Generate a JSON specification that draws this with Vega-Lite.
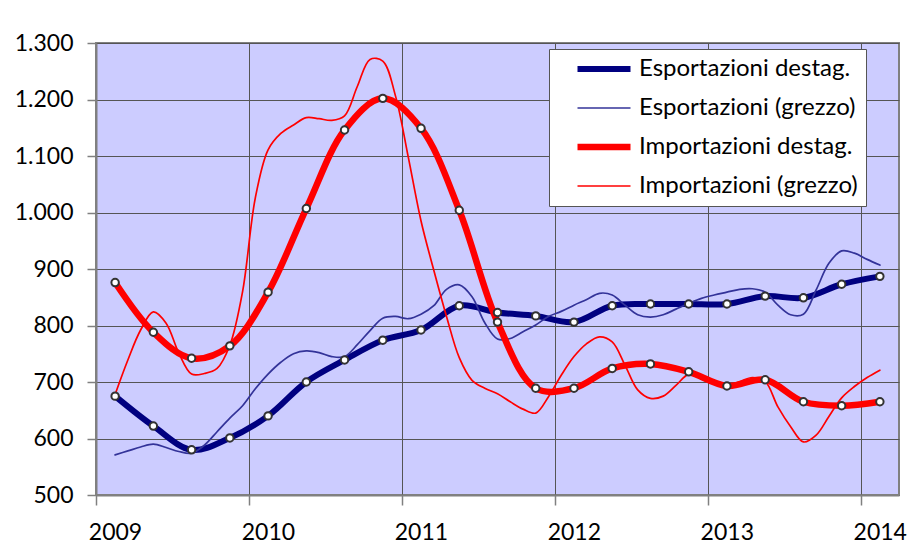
{
  "$schema": "https://vega.github.io/schema/vega-lite/v6.json",
  "width": 803,
  "height": 452,
  "autosize": "none",
  "padding": {"left": 96, "top": 43, "right": 10, "bottom": 60},
  "background": "white",
  "config": {
    "font": "Lato",
    "view": {"fill": "#CCCCFF", "stroke": "#808080", "strokeWidth": 2},
    "legend": {
      "orient": "none",
      "legendX": 453,
      "legendY": 6,
      "direction": "vertical",
      "fillColor": "white",
      "strokeColor": "#555555",
      "padding": 8,
      "symbolType": "stroke",
      "symbolSize": 2809,
      "symbolOffset": 17,
      "clipHeight": 24,
      "rowPadding": 15,
      "labelFont": "Lato",
      "labelFontSize": 24,
      "labelColor": "black",
      "labelOffset": 5,
      "labelLimit": 400
    }
  },
  "datasets": {
    "serie": [
      {"s": "Esportazioni destag.", "m": 0, "v": 675},
      {"s": "Esportazioni destag.", "m": 3, "v": 622},
      {"s": "Esportazioni destag.", "m": 6, "v": 580},
      {"s": "Esportazioni destag.", "m": 9, "v": 601},
      {"s": "Esportazioni destag.", "m": 12, "v": 640},
      {"s": "Esportazioni destag.", "m": 15, "v": 700},
      {"s": "Esportazioni destag.", "m": 18, "v": 739},
      {"s": "Esportazioni destag.", "m": 21, "v": 774},
      {"s": "Esportazioni destag.", "m": 24, "v": 792},
      {"s": "Esportazioni destag.", "m": 27, "v": 835},
      {"s": "Esportazioni destag.", "m": 30, "v": 823},
      {"s": "Esportazioni destag.", "m": 33, "v": 817},
      {"s": "Esportazioni destag.", "m": 36, "v": 806},
      {"s": "Esportazioni destag.", "m": 39, "v": 835},
      {"s": "Esportazioni destag.", "m": 42, "v": 838},
      {"s": "Esportazioni destag.", "m": 45, "v": 838},
      {"s": "Esportazioni destag.", "m": 48, "v": 838},
      {"s": "Esportazioni destag.", "m": 51, "v": 852},
      {"s": "Esportazioni destag.", "m": 54, "v": 849},
      {"s": "Esportazioni destag.", "m": 57, "v": 873},
      {"s": "Esportazioni destag.", "m": 60, "v": 887},

      {"s": "Esportazioni (grezzo)", "m": 0, "v": 571},
      {"s": "Esportazioni (grezzo)", "m": 1, "v": 578},
      {"s": "Esportazioni (grezzo)", "m": 2, "v": 585},
      {"s": "Esportazioni (grezzo)", "m": 3, "v": 590},
      {"s": "Esportazioni (grezzo)", "m": 4, "v": 584},
      {"s": "Esportazioni (grezzo)", "m": 5, "v": 577},
      {"s": "Esportazioni (grezzo)", "m": 6, "v": 574},
      {"s": "Esportazioni (grezzo)", "m": 7, "v": 588},
      {"s": "Esportazioni (grezzo)", "m": 8, "v": 612},
      {"s": "Esportazioni (grezzo)", "m": 9, "v": 636},
      {"s": "Esportazioni (grezzo)", "m": 10, "v": 658},
      {"s": "Esportazioni (grezzo)", "m": 11, "v": 688},
      {"s": "Esportazioni (grezzo)", "m": 12, "v": 714},
      {"s": "Esportazioni (grezzo)", "m": 13, "v": 735},
      {"s": "Esportazioni (grezzo)", "m": 14, "v": 750},
      {"s": "Esportazioni (grezzo)", "m": 15, "v": 755},
      {"s": "Esportazioni (grezzo)", "m": 16, "v": 752},
      {"s": "Esportazioni (grezzo)", "m": 17, "v": 745},
      {"s": "Esportazioni (grezzo)", "m": 18, "v": 745},
      {"s": "Esportazioni (grezzo)", "m": 19, "v": 766},
      {"s": "Esportazioni (grezzo)", "m": 20, "v": 791},
      {"s": "Esportazioni (grezzo)", "m": 21, "v": 813},
      {"s": "Esportazioni (grezzo)", "m": 22, "v": 816},
      {"s": "Esportazioni (grezzo)", "m": 23, "v": 812},
      {"s": "Esportazioni (grezzo)", "m": 24, "v": 820},
      {"s": "Esportazioni (grezzo)", "m": 25, "v": 835},
      {"s": "Esportazioni (grezzo)", "m": 26, "v": 864},
      {"s": "Esportazioni (grezzo)", "m": 27, "v": 872},
      {"s": "Esportazioni (grezzo)", "m": 28, "v": 851},
      {"s": "Esportazioni (grezzo)", "m": 29, "v": 805},
      {"s": "Esportazioni (grezzo)", "m": 30, "v": 776},
      {"s": "Esportazioni (grezzo)", "m": 31, "v": 777},
      {"s": "Esportazioni (grezzo)", "m": 32, "v": 789},
      {"s": "Esportazioni (grezzo)", "m": 33, "v": 801},
      {"s": "Esportazioni (grezzo)", "m": 34, "v": 816},
      {"s": "Esportazioni (grezzo)", "m": 35, "v": 825},
      {"s": "Esportazioni (grezzo)", "m": 36, "v": 836},
      {"s": "Esportazioni (grezzo)", "m": 37, "v": 846},
      {"s": "Esportazioni (grezzo)", "m": 38, "v": 857},
      {"s": "Esportazioni (grezzo)", "m": 39, "v": 854},
      {"s": "Esportazioni (grezzo)", "m": 40, "v": 836},
      {"s": "Esportazioni (grezzo)", "m": 41, "v": 819},
      {"s": "Esportazioni (grezzo)", "m": 42, "v": 815},
      {"s": "Esportazioni (grezzo)", "m": 43, "v": 819},
      {"s": "Esportazioni (grezzo)", "m": 44, "v": 829},
      {"s": "Esportazioni (grezzo)", "m": 45, "v": 839},
      {"s": "Esportazioni (grezzo)", "m": 46, "v": 848},
      {"s": "Esportazioni (grezzo)", "m": 47, "v": 854},
      {"s": "Esportazioni (grezzo)", "m": 48, "v": 859},
      {"s": "Esportazioni (grezzo)", "m": 49, "v": 864},
      {"s": "Esportazioni (grezzo)", "m": 50, "v": 865},
      {"s": "Esportazioni (grezzo)", "m": 51, "v": 859},
      {"s": "Esportazioni (grezzo)", "m": 52, "v": 836},
      {"s": "Esportazioni (grezzo)", "m": 53, "v": 819},
      {"s": "Esportazioni (grezzo)", "m": 54, "v": 820},
      {"s": "Esportazioni (grezzo)", "m": 55, "v": 863},
      {"s": "Esportazioni (grezzo)", "m": 56, "v": 910},
      {"s": "Esportazioni (grezzo)", "m": 57, "v": 932},
      {"s": "Esportazioni (grezzo)", "m": 58, "v": 928},
      {"s": "Esportazioni (grezzo)", "m": 59, "v": 917},
      {"s": "Esportazioni (grezzo)", "m": 60, "v": 907},

      {"s": "Importazioni destag.", "m": 0, "v": 876},
      {"s": "Importazioni destag.", "m": 3, "v": 788},
      {"s": "Importazioni destag.", "m": 6, "v": 742},
      {"s": "Importazioni destag.", "m": 9, "v": 764},
      {"s": "Importazioni destag.", "m": 12, "v": 859},
      {"s": "Importazioni destag.", "m": 15, "v": 1007},
      {"s": "Importazioni destag.", "m": 18, "v": 1146},
      {"s": "Importazioni destag.", "m": 21, "v": 1202},
      {"s": "Importazioni destag.", "m": 24, "v": 1149},
      {"s": "Importazioni destag.", "m": 27, "v": 1004},
      {"s": "Importazioni destag.", "m": 30, "v": 806},
      {"s": "Importazioni destag.", "m": 33, "v": 689},
      {"s": "Importazioni destag.", "m": 36, "v": 689},
      {"s": "Importazioni destag.", "m": 39, "v": 724},
      {"s": "Importazioni destag.", "m": 42, "v": 732},
      {"s": "Importazioni destag.", "m": 45, "v": 718},
      {"s": "Importazioni destag.", "m": 48, "v": 693},
      {"s": "Importazioni destag.", "m": 51, "v": 704},
      {"s": "Importazioni destag.", "m": 54, "v": 665},
      {"s": "Importazioni destag.", "m": 57, "v": 658},
      {"s": "Importazioni destag.", "m": 60, "v": 665},

      {"s": "Importazioni (grezzo)", "m": 0, "v": 678},
      {"s": "Importazioni (grezzo)", "m": 1, "v": 739},
      {"s": "Importazioni (grezzo)", "m": 2, "v": 792},
      {"s": "Importazioni (grezzo)", "m": 3, "v": 824},
      {"s": "Importazioni (grezzo)", "m": 4, "v": 804},
      {"s": "Importazioni (grezzo)", "m": 5, "v": 751},
      {"s": "Importazioni (grezzo)", "m": 6, "v": 714},
      {"s": "Importazioni (grezzo)", "m": 7, "v": 715},
      {"s": "Importazioni (grezzo)", "m": 8, "v": 724},
      {"s": "Importazioni (grezzo)", "m": 9, "v": 765},
      {"s": "Importazioni (grezzo)", "m": 10, "v": 860},
      {"s": "Importazioni (grezzo)", "m": 11, "v": 1026},
      {"s": "Importazioni (grezzo)", "m": 12, "v": 1111},
      {"s": "Importazioni (grezzo)", "m": 13, "v": 1140},
      {"s": "Importazioni (grezzo)", "m": 14, "v": 1155},
      {"s": "Importazioni (grezzo)", "m": 15, "v": 1168},
      {"s": "Importazioni (grezzo)", "m": 16, "v": 1166},
      {"s": "Importazioni (grezzo)", "m": 17, "v": 1163},
      {"s": "Importazioni (grezzo)", "m": 18, "v": 1171},
      {"s": "Importazioni (grezzo)", "m": 19, "v": 1223},
      {"s": "Importazioni (grezzo)", "m": 20, "v": 1271},
      {"s": "Importazioni (grezzo)", "m": 21, "v": 1268},
      {"s": "Importazioni (grezzo)", "m": 22, "v": 1206},
      {"s": "Importazioni (grezzo)", "m": 23, "v": 1098},
      {"s": "Importazioni (grezzo)", "m": 24, "v": 985},
      {"s": "Importazioni (grezzo)", "m": 25, "v": 898},
      {"s": "Importazioni (grezzo)", "m": 26, "v": 816},
      {"s": "Importazioni (grezzo)", "m": 27, "v": 743},
      {"s": "Importazioni (grezzo)", "m": 28, "v": 703},
      {"s": "Importazioni (grezzo)", "m": 29, "v": 689},
      {"s": "Importazioni (grezzo)", "m": 30, "v": 679},
      {"s": "Importazioni (grezzo)", "m": 31, "v": 665},
      {"s": "Importazioni (grezzo)", "m": 32, "v": 652},
      {"s": "Importazioni (grezzo)", "m": 33, "v": 645},
      {"s": "Importazioni (grezzo)", "m": 34, "v": 674},
      {"s": "Importazioni (grezzo)", "m": 35, "v": 712},
      {"s": "Importazioni (grezzo)", "m": 36, "v": 745},
      {"s": "Importazioni (grezzo)", "m": 37, "v": 768},
      {"s": "Importazioni (grezzo)", "m": 38, "v": 780},
      {"s": "Importazioni (grezzo)", "m": 39, "v": 771},
      {"s": "Importazioni (grezzo)", "m": 40, "v": 730},
      {"s": "Importazioni (grezzo)", "m": 41, "v": 686},
      {"s": "Importazioni (grezzo)", "m": 42, "v": 671},
      {"s": "Importazioni (grezzo)", "m": 43, "v": 675},
      {"s": "Importazioni (grezzo)", "m": 44, "v": 694},
      {"s": "Importazioni (grezzo)", "m": 45, "v": 714},
      {"s": "Importazioni (grezzo)", "m": 46, "v": 712},
      {"s": "Importazioni (grezzo)", "m": 47, "v": 700},
      {"s": "Importazioni (grezzo)", "m": 48, "v": 693},
      {"s": "Importazioni (grezzo)", "m": 49, "v": 701},
      {"s": "Importazioni (grezzo)", "m": 50, "v": 708},
      {"s": "Importazioni (grezzo)", "m": 51, "v": 701},
      {"s": "Importazioni (grezzo)", "m": 52, "v": 656},
      {"s": "Importazioni (grezzo)", "m": 53, "v": 621},
      {"s": "Importazioni (grezzo)", "m": 54, "v": 594},
      {"s": "Importazioni (grezzo)", "m": 55, "v": 606},
      {"s": "Importazioni (grezzo)", "m": 56, "v": 639},
      {"s": "Importazioni (grezzo)", "m": 57, "v": 672},
      {"s": "Importazioni (grezzo)", "m": 58, "v": 692},
      {"s": "Importazioni (grezzo)", "m": 59, "v": 708},
      {"s": "Importazioni (grezzo)", "m": 60, "v": 721}
    ]
  },
  "data": {"name": "serie"},
  "encoding": {
    "x": {
      "field": "m",
      "type": "quantitative",
      "scale": {"domain": [-1.5, 61.5], "nice": false, "zero": false},
      "axis": {
        "title": null,
        "values": [-1.5, 10.5, 22.5, 34.5, 46.5, 58.5],
        "grid": true,
        "gridColor": "#555555",
        "gridWidth": 1,
        "gridOpacity": 1,
        "domainColor": "#808080",
        "domainWidth": 2,
        "tickColor": "#808080",
        "tickSize": 10,
        "tickWidth": 1.5,
        "labelExpr": "'' + (2009 + (datum.value + 1.5) / 12)",
        "labelOffset": 19,
        "labelFont": "Lato",
        "labelFontSize": 23,
        "labelColor": "black",
        "labelPadding": 16,
        "labelFlush": false,
        "labelOverlap": false,
        "labelBound": false
      }
    },
    "y": {
      "field": "v",
      "type": "quantitative",
      "scale": {"domain": [500, 1300], "nice": false, "zero": false},
      "axis": {
        "title": null,
        "values": [500, 600, 700, 800, 900, 1000, 1100, 1200, 1300],
        "grid": true,
        "gridColor": "#555555",
        "gridWidth": 1,
        "gridOpacity": 1,
        "domainColor": "#808080",
        "domainWidth": 2,
        "tickColor": "#808080",
        "tickSize": 9,
        "tickWidth": 1.5,
        "labelExpr": "replace(format(datum.value, ','), ',', '.')",
        "labelFont": "Lato",
        "labelFontSize": 23,
        "labelColor": "black",
        "labelPadding": 14,
        "labelFlush": false,
        "labelOverlap": false
      }
    }
  },
  "layer": [
    {
      "mark": {"type": "line", "interpolate": "catmull-rom", "strokeCap": "round", "strokeJoin": "round"},
      "encoding": {
        "color": {
          "field": "s",
          "type": "nominal",
          "scale": {
            "domain": ["Esportazioni destag.", "Esportazioni (grezzo)", "Importazioni destag.", "Importazioni (grezzo)"],
            "range": ["#000080", "#333399", "#FF0000", "#FF0000"]
          },
          "legend": {"title": null}
        },
        "strokeWidth": {
          "field": "s",
          "type": "nominal",
          "scale": {
            "type": "ordinal",
            "domain": ["Esportazioni destag.", "Esportazioni (grezzo)", "Importazioni destag.", "Importazioni (grezzo)"],
            "range": [6, 1.7, 6.5, 1.7]
          },
          "legend": {"title": null}
        }
      }
    },
    {
      "transform": [
        {"filter": {"field": "s", "oneOf": ["Esportazioni destag.", "Importazioni destag."]}}
      ],
      "mark": {"type": "point", "filled": true, "fill": "white", "stroke": "#333333", "strokeWidth": 2, "size": 55, "opacity": 1}
    }
  ]
}
